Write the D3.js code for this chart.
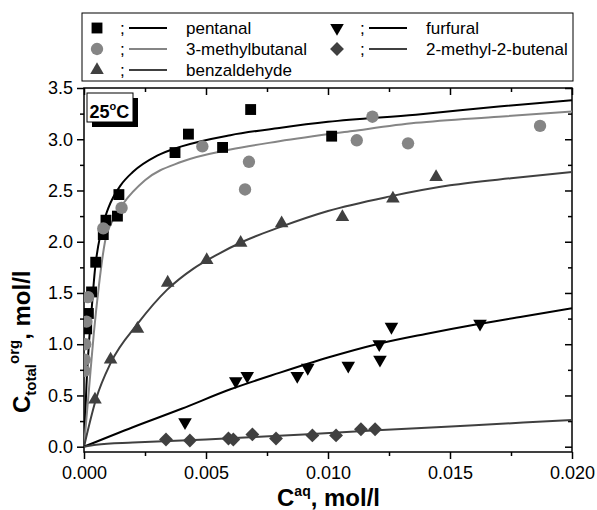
<!DOCTYPE html>
<html>
<head>
<meta charset="utf-8">
<script src="https://cdnjs.cloudflare.com/ajax/libs/d3/7.8.5/d3.min.js"></script>
<style>
  body { margin: 0; background: #fff; }
  text { font-family: "Liberation Sans", Arial, Helvetica, sans-serif; }
</style>
</head>
<body>
<div id="chart"></div>
<script>
// measured points [C_aq, C_org]
const pentanalPts = [[0.00011,1.15],[0.00018,1.30],[0.00031,1.51],[0.00048,1.80],[0.00079,2.07],[0.0009,2.21],
  [0.00137,2.25],[0.00143,2.46],[0.00373,2.87],[0.00428,3.05],[0.00568,2.92],[0.00683,3.29],[0.01015,3.03]];
const methylbutanalPts = [[0.00002,0.74],[0.00003,0.85],[0.00005,1.0],[0.0001,1.22],[0.00017,1.46],[0.00079,2.13],
  [0.00154,2.33],[0.00485,2.93],[0.0066,2.51],[0.00676,2.78],[0.01118,2.99],[0.01182,3.22],[0.01328,2.96],[0.01869,3.13]];
const benzaldehydePts = [[0.00045,0.46],[0.00109,0.85],[0.00219,1.15],[0.00343,1.6],[0.00503,1.82],[0.00642,1.99],
  [0.0081,2.18],[0.01059,2.24],[0.01266,2.42],[0.01443,2.63]];
const furfuralPts = [[0.00414,0.24],[0.00622,0.64],[0.00669,0.69],[0.00874,0.69],[0.00917,0.77],[0.01083,0.79],
  [0.0121,1.0],[0.01213,0.85],[0.0126,1.17],[0.01623,1.2]];
const butenalPts = [[0.00336,0.07],[0.00434,0.06],[0.00592,0.08],[0.00612,0.07],[0.0069,0.12],[0.00787,0.08],
  [0.00936,0.11],[0.01033,0.11],[0.01135,0.17],[0.01193,0.17]];

// fitted curves
const pentanalFit = [[0,0],[0.0001,0.6],[0.0002,1.0],[0.0003,1.3],[0.00045,1.73],[0.0007,2.1],[0.001,2.33],[0.0015,2.55],
  [0.002,2.68],[0.003,2.84],[0.004,2.93],[0.006,3.04],[0.008,3.11],[0.01,3.17],[0.0136,3.24],[0.017,3.32],[0.02,3.38]];
const methylbutanalFit = [[0,0],[0.0002,0.55],[0.0004,1.1],[0.0006,1.55],[0.00086,2.0],[0.0012,2.22],[0.0016,2.37],
  [0.0025,2.6],[0.004,2.78],[0.006,2.9],[0.008,2.98],[0.011,3.08],[0.0136,3.16],[0.017,3.22],[0.02,3.27]];
const benzaldehydeFit = [[0,0],[0.0005,0.47],[0.0011,0.82],[0.0022,1.2],[0.0034,1.53],[0.0045,1.74],[0.0055,1.88],
  [0.0065,2.0],[0.008,2.14],[0.01,2.3],[0.0125,2.44],[0.015,2.55],[0.0175,2.62],[0.02,2.68]];
const furfuralFit = [[0,0],[0.002,0.19],[0.004,0.37],[0.006,0.56],[0.008,0.72],[0.01,0.87],[0.012,1.0],[0.014,1.1],
  [0.016,1.19],[0.018,1.27],[0.02,1.35]];
const butenalFit = [[0,0],[0.0005,0.02],[0.002,0.04],[0.0035,0.055],[0.005,0.07],[0.007,0.095],[0.009,0.12],
  [0.012,0.16],[0.016,0.21],[0.02,0.26]];

const xTicks = [0, 0.005, 0.01, 0.015, 0.02];
const xMinor = [0.0025, 0.0075, 0.0125, 0.0175];
const yTicks = [0, 0.5, 1, 1.5, 2, 2.5, 3, 3.5];
const yMinor = [0.25, 0.75, 1.25, 1.75, 2.25, 2.75, 3.25];

const series = [
  {name:'pentanal', pts:pentanalPts, fit:pentanalFit, sym:'square', color:'#000', line:'#000'},
  {name:'3-methylbutanal', pts:methylbutanalPts, fit:methylbutanalFit, sym:'circle', color:'#858585', line:'#858585'},
  {name:'benzaldehyde', pts:benzaldehydePts, fit:benzaldehydeFit, sym:'up', color:'#404040', line:'#404040'},
  {name:'furfural', pts:furfuralPts, fit:furfuralFit, sym:'down', color:'#000', line:'#000'},
  {name:'2-methyl-2-butenal', pts:butenalPts, fit:butenalFit, sym:'diamond', color:'#404040', line:'#404040'}
];

const W = 597, H = 510;
const pL = 84, pR = 572, pT = 88, pB = 452;

const svg = d3.select('#chart').append('svg')
  .attr('width', W).attr('height', H);

const x = d3.scaleLinear().domain([0, 0.02]).range([pL, pR]);
const y = d3.scaleLinear().domain([0, 3.5]).range([446.7, pT]);

svg.append('clipPath').attr('id','clip')
  .append('rect').attr('x', pL).attr('y', pT).attr('width', pR-pL).attr('height', pB-pT);

function symbolPath(sym) {
  if (sym === 'square') return d3.symbol(d3.symbolSquare, 118)();
  if (sym === 'circle') return d3.symbol(d3.symbolCircle, 120)();
  if (sym === 'diamond') return d3.symbol(d3.symbolSquare, 96)();
  return d3.symbol(d3.symbolTriangle, 80)();
}
function symbolRot(sym) {
  if (sym === 'down') return ' rotate(180)';
  if (sym === 'diamond') return ' rotate(45)';
  return '';
}

// axes
function styleAxis(g) {
  g.select('.domain').remove();
  g.selectAll('line').attr('stroke', '#000').attr('stroke-width', 1.5);
  g.selectAll('text').attr('font-size', 18).attr('fill', '#000')
    .style('font-family', '"Liberation Sans", Arial, sans-serif');
}
svg.append('g').attr('transform', `translate(0,${pB})`)
  .call(d3.axisBottom(x).tickValues(xTicks).tickSize(7).tickPadding(7).tickFormat(d3.format('.3f'))).call(styleAxis);
svg.append('g').attr('transform', `translate(0,${pB})`)
  .call(d3.axisBottom(x).tickValues(xMinor).tickSize(4).tickFormat('')).call(styleAxis);
svg.append('g').attr('transform', `translate(0,${pT})`)
  .call(d3.axisTop(x).tickValues(xTicks).tickSize(-7).tickFormat('')).call(styleAxis);
svg.append('g').attr('transform', `translate(0,${pT})`)
  .call(d3.axisTop(x).tickValues(xMinor).tickSize(-4).tickFormat('')).call(styleAxis);
svg.append('g').attr('transform', `translate(${pL},0)`)
  .call(d3.axisLeft(y).tickValues(yTicks).tickSize(7).tickPadding(4).tickFormat(d3.format('.1f'))).call(styleAxis);
svg.append('g').attr('transform', `translate(${pL},0)`)
  .call(d3.axisLeft(y).tickValues(yMinor).tickSize(4).tickFormat('')).call(styleAxis);
svg.append('g').attr('transform', `translate(${pR},0)`)
  .call(d3.axisRight(y).tickValues(yTicks).tickSize(-7).tickFormat('')).call(styleAxis);
svg.append('g').attr('transform', `translate(${pR},0)`)
  .call(d3.axisRight(y).tickValues(yMinor).tickSize(-4).tickFormat('')).call(styleAxis);

// frame
svg.append('rect')
  .attr('x', pL).attr('y', pT).attr('width', pR-pL).attr('height', pB-pT)
  .attr('fill', 'none').attr('stroke', '#000').attr('stroke-width', 1.5);

// curves
const line = d3.line().x(d => x(d[0])).y(d => y(d[1])).curve(d3.curveMonotoneX);
const plot = svg.append('g').attr('clip-path', 'url(#clip)');
series.forEach(s => {
  plot.append('path').datum(s.fit)
    .attr('d', line)
    .attr('fill', 'none').attr('stroke', s.line).attr('stroke-width', 2);
});
series.forEach(s => {
  plot.selectAll(null).data(s.pts).join('path')
    .attr('d', symbolPath(s.sym))
    .attr('transform', d => `translate(${x(d[0])},${y(d[1])})` + symbolRot(s.sym))
    .attr('fill', s.color);
});

// 25°C label
svg.append('rect').attr('x', 92).attr('y', 98).attr('width', 46).attr('height', 29).attr('fill', '#000');
svg.append('rect').attr('x', 87).attr('y', 93).attr('width', 46).attr('height', 29)
  .attr('fill', '#fff').attr('stroke', '#000').attr('stroke-width', 1);
const tl = svg.append('text').attr('x', 89.5).attr('y', 117.5).attr('font-size', 18).attr('font-weight', 'bold');
tl.append('tspan').text('25');
tl.append('tspan').attr('font-size', 11).attr('dy', -8).text('o');
tl.append('tspan').attr('dy', 8).text('C');

// legend
svg.append('rect').attr('x', 82).attr('y', 13).attr('width', 491).attr('height', 68)
  .attr('fill', '#fff').attr('stroke', '#000').attr('stroke-width', 1);
const legPos = [[97,28],[97,49],[97,70],[337,28],[337,49]];
series.forEach((s, i) => {
  const [lx, ly] = legPos[i];
  const g = svg.append('g').attr('transform', `translate(${lx},${ly})`);
  g.append('path').attr('d', symbolPath(s.sym)).attr('transform', 'translate(0,0)' + symbolRot(s.sym)).attr('fill', s.color);
  g.append('text').attr('x', 23).attr('y', 6).attr('font-size', 17).attr('fill', '#000').text(';');
  g.append('line').attr('x1', 32).attr('x2', 70).attr('y1', 0).attr('y2', 0)
    .attr('stroke', s.line).attr('stroke-width', 2);
  g.append('text').attr('x', 89).attr('y', 6).attr('font-size', 17).attr('fill', '#000').text(s.name);
});

// axis titles
const xt = svg.append('text').attr('x', 277).attr('y', 506).attr('font-size', 24).attr('font-weight', 'bold');
xt.append('tspan').text('C');
xt.append('tspan').attr('font-size', 14).attr('dy', -10).text('aq');
xt.append('tspan').attr('dy', 10).text(', mol/l');

const yt = svg.append('text').attr('transform', 'translate(30,413) rotate(-90)')
  .attr('font-size', 24).attr('font-weight', 'bold');
yt.append('tspan').text('C');
yt.append('tspan').attr('font-size', 15).attr('dy', 6).text('total');
yt.append('tspan').attr('font-size', 15).attr('dy', -17).text('org');
yt.append('tspan').attr('dy', 11).text(', mol/l');
</script>
</body>
</html>
